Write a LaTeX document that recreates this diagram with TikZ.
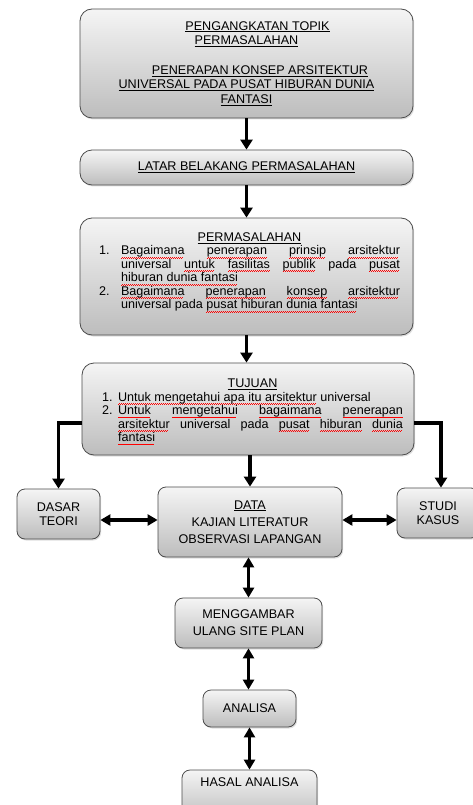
\documentclass[tikz,border=0pt]{standalone}
\usepackage{fontspec}
\setmainfont{Liberation Sans}
\usetikzlibrary{arrows.meta,shadows}
\newcommand\ul[1]{\leavevmode\setbox0\hbox{#1}\rlap{\rule[-2pt]{\wd0}{0.8pt}}\box0\relax}
\newcommand\rw[1]{\leavevmode\setbox0\hbox{#1}\rlap{\color{red}\leaders\hbox{\rule[-3.4pt]{1pt}{0.7pt}\rule[-2.7pt]{1pt}{0.7pt}}\hskip\wd0}\box0\relax}
\newcommand\itm[2]{\hangindent=#1\hangafter=1\noindent\makebox[#1][l]{#2}}
\begin{document}
\begin{tikzpicture}[x=1pt,y=-1pt,
  font=\fontsize{12.6}{14.6}\selectfont,
  box/.style={draw=black!70,line width=0.8pt,rounded corners=12pt,
    top color=black!4,bottom color=black!26,
    drop shadow={opacity=0.25,shadow xshift=1.2pt,shadow yshift=-1.5pt},
    inner sep=0pt},
  sbox/.style={box,rounded corners=8pt,align=center},
  arr/.style={line width=3.2pt,-{Triangle[width=12pt,length=10pt]}},
  darr/.style={line width=3.2pt,{Triangle[width=11pt,length=10pt]}-{Triangle[width=11pt,length=10pt]}}]
\clip (0,0) rectangle (473,805);
\fill[white] (0,0) rectangle (473,805);

\node[box,minimum width=333pt,minimum height=109pt,align=center] (top) at (246.5,63.5)
  {\hspace*{22pt}\ul{PENGANGKATAN TOPIK}\\\ul{PERMASALAHAN}\\[15pt]\hspace*{27pt}\ul{PENERAPAN KONSEP ARSITEKTUR}\\\ul{UNIVERSAL PADA PUSAT HIBURAN DUNIA}\\\ul{FANTASI}};

\node[box,minimum width=333pt,minimum height=35pt] (latar) at (246.5,167.5)
  {\ul{LATAR BELAKANG PERMASALAHAN}};

\node[box,minimum width=333pt,minimum height=117pt] (perm) at (246.5,276.5)
  {\hspace*{6pt}\raisebox{4pt}[\height][\depth]{\begin{minipage}{301pt}\fontsize{12.6}{13.5}\selectfont
   {\centering\ul{PERMASALAHAN}\par}
   \itm{22pt}{1.}\rw{Bagaimana} \rw{penerapan} \rw{prinsip} \rw{arsitektur}\linebreak universal \rw{untuk} \rw{fasilitas} \rw{publik} pada \rw{pusat}\linebreak \rw{hiburan dunia fantasi}\par
   \itm{22pt}{2.}\rw{Bagaimana} \rw{penerapan} \rw{konsep} \rw{arsitektur}\linebreak universal pada \rw{pusat hiburan dunia fantasi}\par
  \end{minipage}}};

\node[box,minimum width=332pt,minimum height=92pt] (tujuan) at (248,409)
  {\hspace*{9pt}\raisebox{-3pt}[\height][\depth]{\begin{minipage}{301pt}\fontsize{12.6}{13.5}\selectfont
   {\centering\ul{TUJUAN}\par}
   \itm{16pt}{1.}\rw{Untuk mengetahui apa itu arsitektur} universal\par
   \itm{16pt}{2.}\rw{Untuk} \rw{mengetahui} \rw{bagaimana} \rw{penerapan}\linebreak \rw{arsitektur} universal pada \rw{pusat} \rw{hiburan} \rw{dunia}\linebreak \rw{fantasi}\par
  \end{minipage}}};

\node[sbox,minimum width=83pt,minimum height=50pt,font=\fontsize{12.6}{14}\selectfont] (dasar) at (58.5,514) {DASAR\\TEORI};
\node[sbox,minimum width=184pt,minimum height=70pt,font=\fontsize{12.6}{17}\selectfont] (data) at (250,522)
  {\ul{DATA}\\KAJIAN LITERATUR\\OBSERVASI LAPANGAN};
\node[sbox,minimum width=82pt,minimum height=50pt,font=\fontsize{12.6}{13.5}\selectfont] (studi) at (438,513) {STUDI\\KASUS};
\node[sbox,minimum width=147pt,minimum height=50pt,font=\fontsize{12.6}{17}\selectfont] (meng) at (248.5,623) {MENGGAMBAR\\ULANG SITE PLAN};
\node[sbox,minimum width=93pt,minimum height=37pt] (analisa) at (249.5,708.5) {ANALISA};
\node[sbox,minimum width=135pt,minimum height=50pt] (hasal) at (249.5,795) {\raisebox{13pt}[\height][\depth]{HASAL ANALISA}};

\coordinate (sy) at (0,423);
\coordinate (hy) at (0,520);

\draw[arr] (top.south) -- (latar.north);
\draw[arr] (latar.south) -- (perm.north);
\draw[arr] (perm.south) -- (perm.south |- tujuan.north);
\draw[arr] (tujuan.south -| data.north) -- (data.north);
\draw[arr] (tujuan.west |- sy) -| (dasar.north);
\draw[arr] (tujuan.east |- sy) -| ([xshift=3pt]studi.north);
\draw[darr] (dasar.east |- hy) -- (data.west |- hy);
\draw[darr] (data.east |- hy) -- (studi.west |- hy);
\draw[darr] (meng.north |- data.south) -- (meng.north);
\draw[darr] (meng.south) -- (meng.south |- analisa.north);
\draw[darr] (analisa.south) -- (analisa.south |- hasal.north);
\end{tikzpicture}
\end{document}
